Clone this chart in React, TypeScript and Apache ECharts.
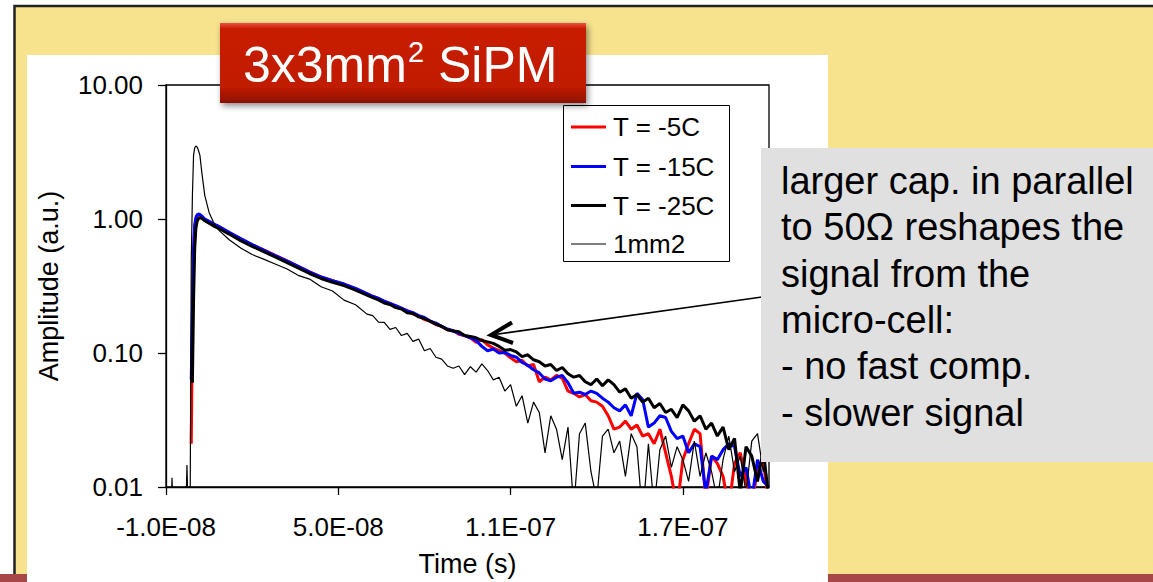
import React, { useEffect, useRef } from "react";
import * as echarts from "echarts";

// Sample times in nanoseconds (axis labels are shown in seconds)
const timeNs = [
  -10, -8.4, -7.9, -7.4, -3.2, -2.7, -2.2, -1.6, -1.2, -0.8, -0.4, 0, 0.4, 0.8,
  1.2, 1.8, 2.5, 3.5, 5, 6.5, 8, 12, 16, 20, 24, 28, 32, 36, 40, 44, 48, 52, 56,
  60, 62, 64, 66, 68, 70, 72, 74, 76, 78, 80, 82, 84, 86, 88, 90, 92, 94, 96, 98,
  100, 102, 104, 106, 108, 110, 112, 114, 116, 118, 120, 122, 124, 126, 128, 130,
  132, 134, 136, 138, 140, 142, 144, 146, 148, 150, 152, 154, 156, 158, 160, 162,
  164, 166, 168, 170, 172, 174, 176, 178, 180, 182, 184, 186, 188, 190, 192, 194,
  196, 198, 200,
];

// 3x3 mm2 SiPM, T = -5C
const ampMinus5C = [
  null, null, null, null, null, null, null, null,
  0.021, 0.15, 0.55, 0.88, 1.0, 1.05, 1.07, 1.07, 1.04, 0.995, 0.955, 0.915, 0.885,
  0.79, 0.71, 0.642, 0.588, 0.536, 0.49, 0.444, 0.403, 0.369, 0.346, 0.326, 0.302, 0.276,
  0.264, 0.255, 0.242, 0.234, 0.224, 0.215, 0.207, 0.196, 0.19, 0.178,
  0.173, 0.163, 0.158, 0.149, 0.147, 0.138, 0.135, 0.13, 0.12, 0.126,
  0.115, 0.109, 0.104, 0.1, 0.092, 0.086, 0.088, 0.08, 0.082, 0.061,
  0.066, 0.063, 0.068, 0.065, 0.052, 0.05, 0.047, 0.049, 0.044, 0.043,
  0.04, 0.034, 0.027, 0.028, 0.031, 0.027, 0.029, 0.024, 0.025, 0.021,
  0.027, 0.018, 0.012, 0.007, 0.016, 0.021, 0.027, 0.025, 0.008, 0.017,
  0.015, 0.012, 0.007, 0.015, 0.018, 0.011, 0.007, 0.014, 0.016, 0.007,
];

// 3x3 mm2 SiPM, T = -15C
const ampMinus15C = [
  null, null, null, null, null, null, null, null,
  0.063, 0.2, 0.6, 0.9, 1.02, 1.07, 1.09, 1.08, 1.05, 1.0, 0.96, 0.92, 0.89,
  0.795, 0.715, 0.645, 0.585, 0.534, 0.487, 0.443, 0.402, 0.37, 0.346, 0.327, 0.304, 0.278,
  0.265, 0.256, 0.244, 0.235, 0.226, 0.216, 0.206, 0.2, 0.19, 0.184,
  0.173, 0.167, 0.158, 0.151, 0.146, 0.14, 0.135, 0.13, 0.124, 0.112,
  0.104, 0.107, 0.1, 0.101, 0.096, 0.093, 0.085, 0.081, 0.075, 0.071,
  0.064, 0.062, 0.066, 0.068, 0.06, 0.05, 0.051, 0.049, 0.052, 0.05,
  0.046, 0.043, 0.039, 0.037, 0.041, 0.034, 0.05, 0.045, 0.028, 0.03,
  0.034, 0.033, 0.026, 0.023, 0.024, 0.018, 0.021, 0.02, 0.009, 0.017,
  0.016, 0.019, 0.021, 0.02, 0.012, 0.014, 0.008, 0.016, 0.011, 0.01,
];

// 3x3 mm2 SiPM, T = -25C
const ampMinus25C = [
  null, null, null, null, null, null, null, null, null,
  0.06, 0.25, 0.6, 0.85, 0.95, 1.0, 1.02, 1.01, 0.97, 0.93, 0.89, 0.86,
  0.772, 0.69, 0.625, 0.57, 0.522, 0.475, 0.432, 0.392, 0.36, 0.337, 0.318, 0.295, 0.27,
  0.259, 0.249, 0.236, 0.23, 0.218, 0.213, 0.2, 0.197, 0.186, 0.181,
  0.172, 0.164, 0.158, 0.149, 0.146, 0.144, 0.135, 0.133, 0.13, 0.124,
  0.121, 0.118, 0.112, 0.105, 0.106, 0.102, 0.094, 0.097, 0.089, 0.086,
  0.08, 0.082, 0.074, 0.078, 0.07, 0.066, 0.068, 0.061, 0.058, 0.064,
  0.057, 0.063, 0.058, 0.051, 0.054, 0.046, 0.049, 0.043, 0.046, 0.039,
  0.042, 0.036, 0.038, 0.033, 0.041, 0.037, 0.031, 0.034, 0.027, 0.03,
  0.024, 0.028, 0.019, 0.023, 0.009, 0.02, 0.017, 0.011, 0.019, 0.008,
];

// 1 mm2 SiPM reference pulse
const amp1mm2 = [
  0.005, 0.005, 0.0117, 0.005, 0.005, 0.0146, 0.005, 0.006,
  0.5, 1.5, 3.0, 3.4, 3.5, 3.45, 3.3, 3.0, 2.2, 1.5, 1.12, 0.95, 0.84,
  0.7, 0.608, 0.543, 0.502, 0.462, 0.425, 0.38, 0.356, 0.312, 0.29, 0.248, 0.229, 0.195,
  0.19, 0.17, 0.169, 0.15, 0.155, 0.135, 0.14, 0.122, 0.127, 0.104,
  0.108, 0.093, 0.09, 0.08, 0.077, 0.08, 0.069, 0.079, 0.072, 0.083,
  0.074, 0.063, 0.066, 0.052, 0.058, 0.04, 0.048, 0.03, 0.043, 0.036,
  0.018, 0.034, 0.027, 0.016, 0.028, 0.007, 0.025, 0.03, 0.013, 0.008,
  0.024, 0.027, 0.018, 0.022, 0.012, 0.025, 0.02, 0.006, 0.021, 0.007,
  0.019, 0.024, 0.014, 0.02, 0.016, 0.011, 0.022, 0.012, 0.018, 0.013,
  0.008, 0.016, 0.024, 0.013, 0.017, 0.009, 0.022, 0.025, 0.013, 0.02,
];

const seriesNames = ["T = -5C", "T = -15C", "T = -25C", "1mm2"];
const seriesValues = [ampMinus5C, ampMinus15C, ampMinus25C, amp1mm2];
const seriesColors = ["#FF0000", "#0000FF", "#000000", "#000000"];
const seriesWidths = [3, 3, 3, 1.2];

const xTickValues = [-10, 50, 110, 170];
const titleParts = ["3x3mm", "2", " SiPM"];
const noteLines = [
  "larger cap. in parallel",
  "to 50\u03A9 reshapes the",
  "signal from the",
  "micro-cell:",
  "- no fast comp.",
  "- slower signal",
];

const FONT = "'Liberation Sans', Arial, Helvetica, sans-serif";

// ns value -> "5.0E-08" style label
function secondsLabel(v: number): string {
  const s = (v * 1e-9).toExponential(1).toUpperCase();
  return s.replace(/E([+-])(\d)$/, "E$10$2");
}

export default function App() {
  const ref = useRef<HTMLDivElement>(null);

  useEffect(() => {
    if (!ref.current) return;
    const chart = echarts.init(ref.current, undefined, { renderer: "svg" });

    const series = seriesNames.map((name, i) => ({
      name,
      type: "line",
      data: timeNs.map((t, k) => [t, seriesValues[i][k] == null ? "-" : seriesValues[i][k]]),
      showSymbol: false,
      symbol: "none",
      clip: true,
      lineStyle: { color: seriesColors[i], width: seriesWidths[i] },
      itemStyle: { color: seriesColors[i] },
      emphasis: { disabled: true },
      z: 2 + i,
    }));

    const legendRows = [127, 166.5, 205.5, 244];
    const legendEls: any[] = [
      {
        type: "rect",
        z: 50,
        silent: true,
        shape: { x: 563.5, y: 105.5, width: 166, height: 156 },
        style: { fill: "#ffffff", stroke: "#000000", lineWidth: 1 },
      },
    ];
    seriesNames.forEach((name, i) => {
      legendEls.push({
        type: "line",
        z: 51,
        silent: true,
        shape: { x1: 571, y1: legendRows[i], x2: 606, y2: legendRows[i] },
        style: { stroke: seriesColors[i], lineWidth: seriesWidths[i] },
      });
      legendEls.push({
        type: "text",
        z: 51,
        silent: true,
        x: 613,
        y: legendRows[i],
        style: {
          text: name,
          fill: "#000000",
          fontSize: 26,
          fontFamily: FONT,
          align: "left",
          verticalAlign: "middle",
        },
      });
    });

    const option: any = {
      animation: false,
      backgroundColor: "#ffffff",
      textStyle: { fontFamily: FONT },
      grid: {
        left: 166,
        top: 85,
        width: 603,
        height: 402,
        show: true,
        borderColor: "#000000",
        borderWidth: 1.3,
        backgroundColor: "transparent",
      },
      xAxis: {
        type: "value",
        min: -10,
        max: 200,
        name: "Time (s)",
        nameLocation: "middle",
        nameGap: 63,
        nameTextStyle: { fontSize: 27, color: "#000000", fontFamily: FONT },
        axisLine: { onZero: false, lineStyle: { color: "#000000", width: 1.3 } },
        axisTick: {
          show: true,
          inside: false,
          length: 8,
          customValues: xTickValues,
          lineStyle: { color: "#000000", width: 1.3 },
        },
        axisLabel: {
          customValues: xTickValues,
          formatter: (v: number) => secondsLabel(v),
          fontSize: 26,
          color: "#000000",
          fontFamily: FONT,
          margin: 27,
        },
        splitLine: { show: false },
        minorTick: { show: false },
      },
      yAxis: {
        type: "log",
        logBase: 10,
        min: 0.01,
        max: 10,
        name: "Amplitude (a.u.)",
        nameLocation: "middle",
        nameGap: 104,
        nameTextStyle: { fontSize: 27, color: "#000000", fontFamily: FONT },
        axisLine: { show: true, onZero: false, lineStyle: { color: "#000000", width: 1.3 } },
        axisTick: { show: true, inside: false, length: 8, lineStyle: { color: "#000000", width: 1.3 } },
        axisLabel: {
          formatter: (v: number) => Number(v).toFixed(2),
          fontSize: 26,
          color: "#000000",
          fontFamily: FONT,
          margin: 23,
        },
        splitLine: { show: false },
        minorTick: { show: false },
      },
      series,
      graphic: {
        elements: [
          // slide background
          {
            type: "rect",
            z: -30,
            silent: true,
            shape: { x: 14.5, y: 6, width: 1150, height: 590 },
            style: { fill: "#F7E28E", stroke: "#222222", lineWidth: 2.5 },
          },
          {
            type: "rect",
            z: -29,
            silent: true,
            shape: { x: 0, y: 574, width: 1153, height: 8 },
            style: { fill: "#A84747" },
          },
          {
            type: "rect",
            z: -28,
            silent: true,
            shape: { x: 27, y: 55, width: 801, height: 527 },
            style: { fill: "#ffffff" },
          },
          // title banner
          {
            type: "rect",
            z: 60,
            silent: true,
            shape: { x: 220, y: 23, width: 366, height: 80 },
            style: {
              fill: new echarts.graphic.LinearGradient(0, 0, 0, 1, [
                { offset: 0, color: "#EE5040" },
                { offset: 0.07, color: "#C81E05" },
                { offset: 0.8, color: "#C01A02" },
                { offset: 1, color: "#8E1006" },
              ]),
              shadowBlur: 6,
              shadowOffsetX: 2,
              shadowOffsetY: 3,
              shadowColor: "rgba(0,0,0,0.45)",
            },
          },
          {
            type: "text",
            z: 61,
            silent: true,
            x: 243,
            y: 65,
            style: {
              text: `{b|${titleParts[0]}}{s|${titleParts[1]}}{b|${titleParts[2]}}`,
              fill: "#ffffff",
              fontSize: 50,
              fontFamily: FONT,
              align: "left",
              verticalAlign: "middle",
              rich: {
                b: { fontSize: 50, fontFamily: FONT, fill: "#ffffff", lineHeight: 56, verticalAlign: "middle" },
                s: { fontSize: 29, fontFamily: FONT, fill: "#ffffff", lineHeight: 56, verticalAlign: "top", padding: [0, 0, 0, 1] },
              },
            },
          },
          ...legendEls,
          // annotation arrow
          {
            type: "line",
            z: 70,
            silent: true,
            shape: { x1: 762, y1: 297, x2: 491, y2: 335 },
            style: { stroke: "#000000", lineWidth: 1.6 },
          },
          {
            type: "polyline",
            z: 70,
            silent: true,
            shape: { points: [[512, 322.5], [491, 335], [513, 343]] },
            style: { stroke: "#000000", lineWidth: 4, fill: null, lineJoin: "miter" },
          },
          // annotation box
          {
            type: "rect",
            z: 80,
            silent: true,
            shape: { x: 761, y: 148, width: 400, height: 314 },
            style: { fill: "#E0E0E0" },
          },
          {
            type: "text",
            z: 81,
            silent: true,
            x: 781,
            y: 158,
            style: {
              text: noteLines.join("\n"),
              fill: "#000000",
              fontSize: 38,
              lineHeight: 46.3,
              fontFamily: FONT,
              align: "left",
              verticalAlign: "top",
            },
          },
        ],
      },
    };

    chart.setOption(option);
    return () => chart.dispose();
  }, []);

  return (
    <div
      ref={ref}
      style={{ position: "absolute", left: 0, top: 0, width: 1153, height: 582 }}
    />
  );
}
